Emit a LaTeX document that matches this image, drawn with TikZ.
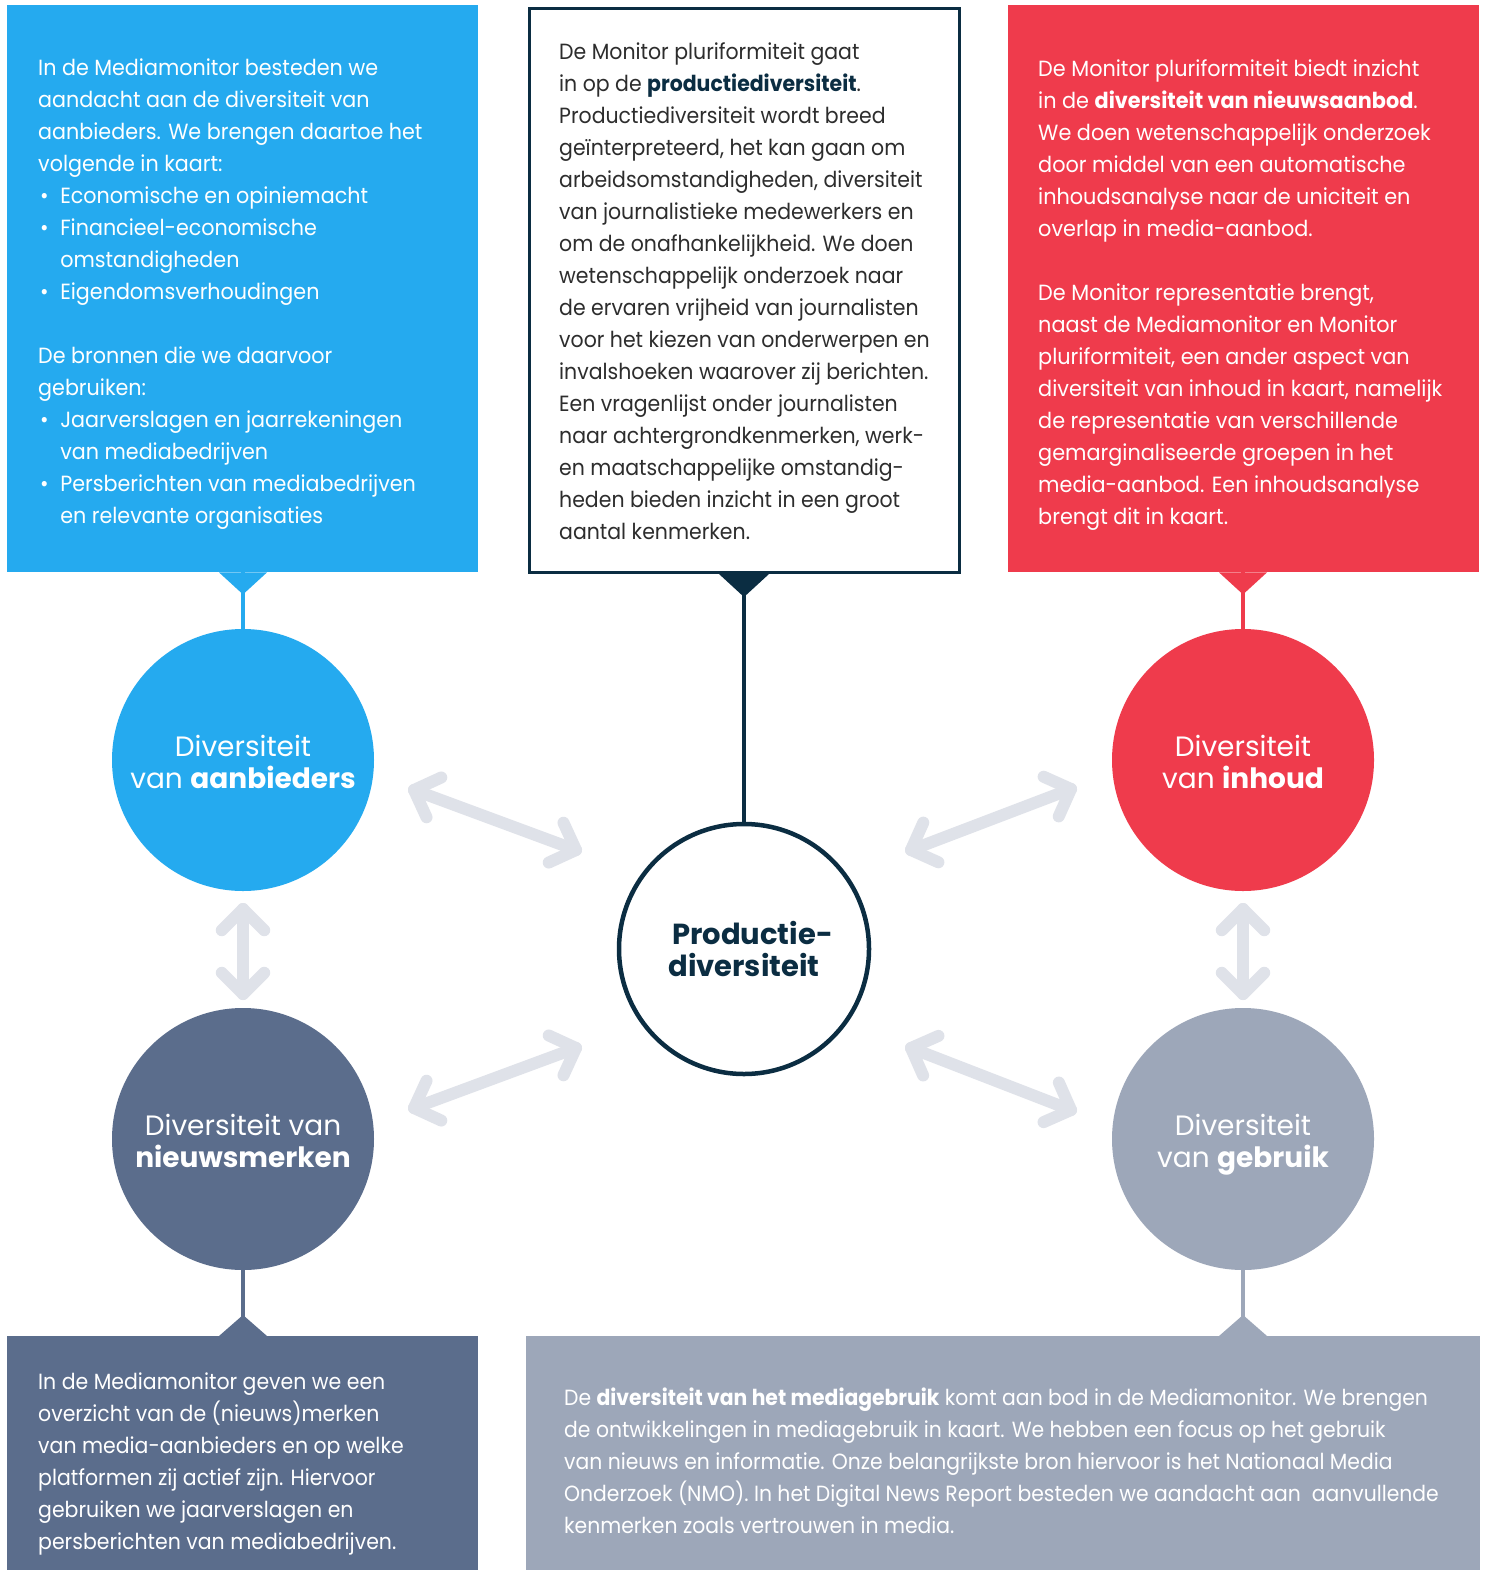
\documentclass[tikz,border=0pt]{standalone}
\usepackage{fontspec}
\usepackage{graphicx}
\setmainfont{Poppins}
\usetikzlibrary{calc}
\definecolor{blueC}{RGB}{37,170,239}
\definecolor{redC}{RGB}{239,59,76}
\definecolor{slateC}{RGB}{91,109,140}
\definecolor{greyC}{RGB}{157,167,185}
\definecolor{navyC}{RGB}{11,45,66}
\definecolor{arrC}{RGB}{223,226,233}
\definecolor{txtC}{RGB}{45,45,45}
\newcommand{\bodyfont}{\fontsize{22}{32}\selectfont}
\newcommand{\blt}{\makebox[23.5pt][l]{\hspace{2pt}\textbullet}}
\newcommand{\ind}{\hspace*{23.5pt}}
\newcommand{\clabel}[2]{\raisebox{-6pt}[\height][\depth]{\begin{tabular}{@{}c@{}}#1\\#2\end{tabular}}}
\newcommand{\dblarr}[2]{%
  \draw[arr] (#1) -- (#2);
  \draw[arr] ($(#1)!30pt!45:(#2)$) -- (#1) -- ($(#1)!30pt!-45:(#2)$);
  \draw[arr] ($(#2)!30pt!45:(#1)$) -- (#2) -- ($(#2)!30pt!-45:(#1)$);}
\tikzset{
  arr/.style={draw=arrC, line width=12pt, line cap=round, line join=round},
  txt/.style={anchor=base west, inner sep=0pt, font=\bodyfont},
  circ/.style={circle, minimum size=262pt, inner sep=0pt, align=center, text=white, font=\fontsize{28}{31}\selectfont},
  conn/.style={line width=4pt},
}
\begin{document}
\begin{tikzpicture}[x=1pt,y=-1pt]
\useasboundingbox (0,0) rectangle (1489,1570);
\fill[white] (0,0) rectangle (1489,1570);
% boxes
\node[fill=blueC, minimum width=471pt, minimum height=567pt, inner sep=0pt, anchor=north west] (bA) at (7,5) {};
\node[draw=navyC, line width=3pt, fill=white, minimum width=430pt, minimum height=564pt, inner sep=0pt, anchor=north west] (bC) at (528,7) {};
\node[fill=redC, minimum width=471pt, minimum height=567pt, inner sep=0pt, anchor=north west] (bB) at (1008,5) {};
\node[fill=slateC, minimum width=471pt, minimum height=234pt, inner sep=0pt, anchor=north west] (bD) at (7,1336) {};
\node[fill=greyC, minimum width=954pt, minimum height=234pt, inner sep=0pt, anchor=north west] (bE) at (526,1336) {};
% circles
\node[circ, fill=blueC] (cA) at (243,760) {\clabel{Diversiteit}{van \textbf{aanbieders}}};
\node[circ, fill=redC] (cB) at (1243,760) {\clabel{Diversiteit}{van \textbf{inhoud}}};
\node[circ, fill=slateC] (cD) at (243,1139) {\clabel{Diversiteit van}{\textbf{nieuwsmerken}}};
\node[circ, fill=greyC] (cE) at (1243,1139) {\clabel{Diversiteit}{van \textbf{gebruik}}};
\node[circle, draw=navyC, line width=4.5pt, fill=white, minimum size=250pt, inner sep=0pt, align=center, text=navyC, font=\fontsize{29}{32}\selectfont\bfseries] (cC) at (744,949) {\hspace*{17pt}Productie-\\diversiteit};
% connectors
\draw[conn, blueC] (bA.south -| cA) -- (cA.north);
\fill[blueC] ($(bA.south -| cA)+(-24,0)$) -- ($(bA.south -| cA)+(24,0)$) -- ($(bA.south -| cA)+(0,22)$) -- cycle;
\draw[conn, navyC] (bC.south -| cC) -- (cC.north);
\fill[navyC] ($(bC.south -| cC)+(-25,0)$) -- ($(bC.south -| cC)+(25,0)$) -- ($(bC.south -| cC)+(0,23)$) -- cycle;
\draw[conn, redC] (bB.south -| cB) -- (cB.north);
\fill[redC] ($(bB.south -| cB)+(-24,0)$) -- ($(bB.south -| cB)+(24,0)$) -- ($(bB.south -| cB)+(0,22)$) -- cycle;
\draw[conn, slateC] (cD.south) -- (cD.south |- bD.north);
\fill[slateC] ($(cD.south |- bD.north)+(-24,0)$) -- ($(cD.south |- bD.north)+(24,0)$) -- ($(cD.south |- bD.north)+(0,-21)$) -- cycle;
\draw[conn, greyC] (cE.south) -- (cE.south |- bE.north);
\fill[greyC] ($(cE.south |- bE.north)+(-24,0)$) -- ($(cE.south |- bE.north)+(24,0)$) -- ($(cE.south |- bE.north)+(0,-21)$) -- cycle;
% arrows
\coordinate (a1) at (414,790); \coordinate (a2) at (576,850);
\coordinate (a3) at (911,850); \coordinate (a4) at (1071,789);
\coordinate (a5) at (414,1108); \coordinate (a6) at (576,1048);
\coordinate (a7) at (911,1048); \coordinate (a8) at (1071,1110);
\coordinate (a9) at (243,909); \coordinate (a10) at (243,994);
\coordinate (a11) at (1243,909); \coordinate (a12) at (1243,994);
\dblarr{a1}{a2}
\dblarr{a3}{a4}
\dblarr{a5}{a6}
\dblarr{a7}{a8}
\dblarr{a9}{a10}
\dblarr{a11}{a12}
% texts
\node[txt, text=white] (tA) at (38,76) {\scalebox{0.94}[1]{\parbox[t]{440pt}{\raggedright
In de Mediamonitor besteden we\\
aandacht aan de diversiteit van\\
aanbieders. We brengen daartoe het\\
volgende in kaart:\\
\blt Economische en opiniemacht\\
\blt Financieel-economische\\
\ind omstandigheden\\
\blt Eigendomsverhoudingen\\[32pt]
De bronnen die we daarvoor\\
gebruiken:\\
\blt Jaarverslagen en jaarrekeningen\\
\ind van mediabedrijven\\
\blt Persberichten van mediabedrijven\\
\ind en relevante organisaties}}};
\node[txt, text=txtC] (tC) at (559,60) {\scalebox{0.93}[1]{\parbox[t]{440pt}{\raggedright
De Monitor pluriformiteit gaat\\
in op de \textbf{\color{navyC}productiediversiteit}.\\
Productiediversiteit wordt breed\\
geïnterpreteerd, het kan gaan om\\
arbeidsomstandigheden, diversiteit\\
van journalistieke medewerkers en\\
om de onafhankelijkheid. We doen\\
wetenschappelijk onderzoek naar\\
de ervaren vrijheid van journalisten\\
voor het kiezen van onderwerpen en\\
invalshoeken waarover zij berichten.\\
Een vragenlijst onder journalisten\\
naar achtergrondkenmerken, werk-\\
en maatschappelijke omstandig-\\
heden bieden inzicht in een groot\\
aantal kenmerken.}}};
\node[txt, text=white] (tB) at (1038,77) {\scalebox{0.945}[1]{\parbox[t]{440pt}{\raggedright
De Monitor pluriformiteit biedt inzicht\\
in de \textbf{diversiteit van nieuwsaanbod}.\\
We doen wetenschappelijk onderzoek\\
door middel van een automatische\\
inhoudsanalyse naar de uniciteit en\\
overlap in media-aanbod.\\[32pt]
De Monitor representatie brengt,\\
naast de Mediamonitor en Monitor\\
pluriformiteit, een ander aspect van\\
diversiteit van inhoud in kaart, namelijk\\
de representatie van verschillende\\
gemarginaliseerde groepen in het\\
media-aanbod. Een inhoudsanalyse\\
brengt dit in kaart.}}};
\node[txt, text=white] (tD) at (38,1389) {\scalebox{0.93}[1]{\parbox[t]{440pt}{\raggedright
In de Mediamonitor geven we een\\
overzicht van de (nieuws)merken\\
van media-aanbieders en op welke\\
platformen zij actief zijn. Hiervoor\\
gebruiken we jaarverslagen en\\
persberichten van mediabedrijven.}}};
\node[txt, text=white] (tE) at (564,1405) {\scalebox{0.925}[1]{\parbox[t]{1100pt}{\raggedright
De \textbf{diversiteit van het mediagebruik} komt aan bod in de Mediamonitor. We brengen\\
de ontwikkelingen in mediagebruik in kaart. We hebben een focus op het gebruik\\
van nieuws en informatie. Onze belangrijkste bron hiervoor is het Nationaal Media\\
Onderzoek (NMO). In het Digital News Report besteden we aandacht aan\ \ aanvullende\\
kenmerken zoals vertrouwen in media.}}};
\end{tikzpicture}
\end{document}
